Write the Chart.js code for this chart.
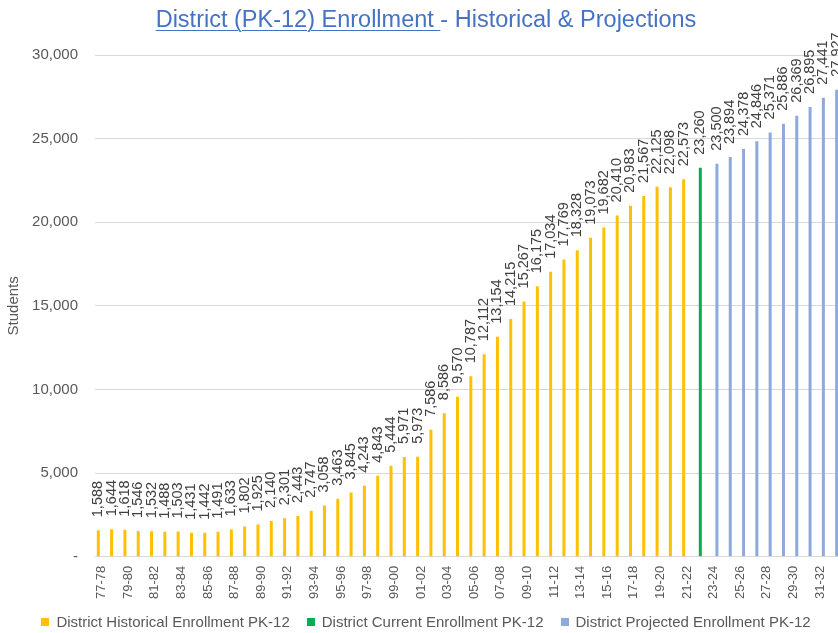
<!DOCTYPE html>
<html>
<head>
<meta charset="utf-8">
<script src="https://cdn.jsdelivr.net/npm/chart.js@4.4.1/dist/chart.umd.min.js"></script>
<style>
    html, body { margin: 0; padding: 0; background: #fff; overflow: hidden; }
    #wrap { position: relative; width: 852px; height: 633px; }
    #title {
        position: absolute; left: 0; top: 6px; width: 852px; text-align: center;
        font-family: "Liberation Sans", Arial, sans-serif; font-size: 23.5px; color: #4472C4;
        white-space: pre;
    }
    #title u { text-decoration-thickness: 1px; text-underline-offset: 3px; }
    #legend {
        position: absolute; left: 0; top: 613px; width: 852px;
        display: flex; justify-content: center; align-items: center;
        font-family: "Liberation Sans", Arial, sans-serif; font-size: 15px; color: #595959;
        line-height: 18px; white-space: pre;
    }
    #legend .item { display: flex; align-items: center; margin: 0 8.5px; }
    #legend .box { width: 8px; height: 8px; margin-right: 7px; }
</style>
</head>
<body>
<div id="wrap">
    <canvas id="enrollmentChart" width="852" height="633"></canvas>
    <div id="title"><u>District (PK-12) Enrollment </u>- Historical &amp; Projections</div>
    <div id="legend"></div>
</div>
<script>
const years = [
    '77-78','78-79','79-80','80-81','81-82','82-83','83-84','84-85','85-86','86-87',
    '87-88','88-89','89-90','90-91','91-92','92-93','93-94','94-95','95-96','96-97',
    '97-98','98-99','99-00','00-01','01-02','02-03','03-04','04-05','05-06','06-07',
    '07-08','08-09','09-10','10-11','11-12','12-13','13-14','14-15','15-16','16-17',
    '17-18','18-19','19-20','20-21','21-22','22-23','23-24','24-25','25-26','26-27',
    '27-28','28-29','29-30','30-31','31-32','32-33'
];

const historical = [
    1588, 1644, 1618, 1546, 1532, 1488, 1503, 1431, 1442, 1491,
    1633, 1802, 1925, 2140, 2301, 2443, 2747, 3058, 3463, 3845,
    4243, 4843, 5444, 5971, 5973, 7586, 8586, 9570, 10787, 12112,
    13154, 14215, 15267, 16175, 17034, 17769, 18328, 19073, 19682, 20410,
    20983, 21567, 22125, 22098, 22573
];
const current = [23260];
const projected = [23500, 23894, 24378, 24846, 25371, 25886, 26369, 26895, 27441, 27927];

const yTicks = [0, 5000, 10000, 15000, 20000, 25000, 30000];

// pad each series out to the full category list
const nHist = historical.length;
const histData = years.map((_, i) => i < nHist ? historical[i] : null);
const currData = years.map((_, i) => i === nHist ? current[0] : null);
const projData = years.map((_, i) => i > nHist ? projected[i - nHist - 1] : null);

const fontFamily = '"Liberation Sans", Arial, sans-serif';

const barLabels = {
    id: 'barLabels',
    afterDatasetsDraw(chart) {
        const ctx = chart.ctx;
        ctx.save();
        ctx.font = '14.5px ' + fontFamily;
        ctx.fillStyle = '#404040';
        ctx.textAlign = 'left';
        ctx.textBaseline = 'middle';
        chart.data.datasets.forEach((ds, di) => {
            const meta = chart.getDatasetMeta(di);
            meta.data.forEach((bar, i) => {
                const v = ds.data[i];
                if (v === null || v === undefined) return;
                ctx.save();
                ctx.translate(bar.x, bar.y - 13);
                ctx.rotate(-Math.PI / 2);
                ctx.fillText(v.toLocaleString('en-US'), 0, 0);
                ctx.restore();
            });
        });
        ctx.restore();
    }
};

const datasets = [
    { label: 'District Historical Enrollment PK-12', data: histData, backgroundColor: '#FFC000' },
    { label: 'District Current Enrollment PK-12', data: currData, backgroundColor: '#00B050' },
    { label: 'District Projected Enrollment PK-12', data: projData, backgroundColor: '#8EA9DB' }
];

const ctx = document.getElementById('enrollmentChart').getContext('2d');
new Chart(ctx, {
    type: 'bar',
    data: { labels: years, datasets: datasets },
    options: {
        responsive: false,
        animation: false,
        categoryPercentage: 0.75,
        barPercentage: 0.9,
        layout: { padding: { top: 55, left: 0, right: 12, bottom: 25 } },
        plugins: {
            title: { display: false },
            tooltip: { enabled: false },
            legend: { display: false }
        },
        scales: {
            x: {
                afterFit: axis => { axis.paddingLeft = 0; axis.paddingRight = 0; },
                grid: { display: false, drawTicks: false },
                border: { color: '#D9D9D9' },
                ticks: {
                    autoSkip: false,
                    minRotation: 90,
                    maxRotation: 90,
                    padding: 9,
                    color: '#595959',
                    font: { family: fontFamily, size: 13 },
                    callback: function(value, index) {
                        return index % 2 === 0 ? this.getLabelForValue(value) : '';
                    }
                }
            },
            y: {
                min: 0,
                max: 30000,
                afterBuildTicks: axis => { axis.ticks = yTicks.map(v => ({ value: v })); },
                afterFit: axis => { axis.width = 95; },
                grid: { color: '#D9D9D9', drawTicks: false },
                border: { display: false },
                title: {
                    display: true,
                    text: 'Students',
                    color: '#595959',
                    font: { family: fontFamily, size: 15 },
                    padding: { top: 5, bottom: 0 }
                },
                ticks: {
                    padding: 17,
                    color: '#595959',
                    font: { family: fontFamily, size: 15 },
                    callback: value => value === 0 ? '-' : value.toLocaleString('en-US')
                }
            }
        }
    },
    plugins: [barLabels]
});

// legend under the axis labels
const legendEl = document.getElementById('legend');
datasets.forEach(ds => {
    const item = document.createElement('span');
    item.className = 'item';
    const box = document.createElement('span');
    box.className = 'box';
    box.style.background = ds.backgroundColor;
    const txt = document.createElement('span');
    txt.textContent = ds.label;
    item.appendChild(box);
    item.appendChild(txt);
    legendEl.appendChild(item);
});
</script>
</body>
</html>
